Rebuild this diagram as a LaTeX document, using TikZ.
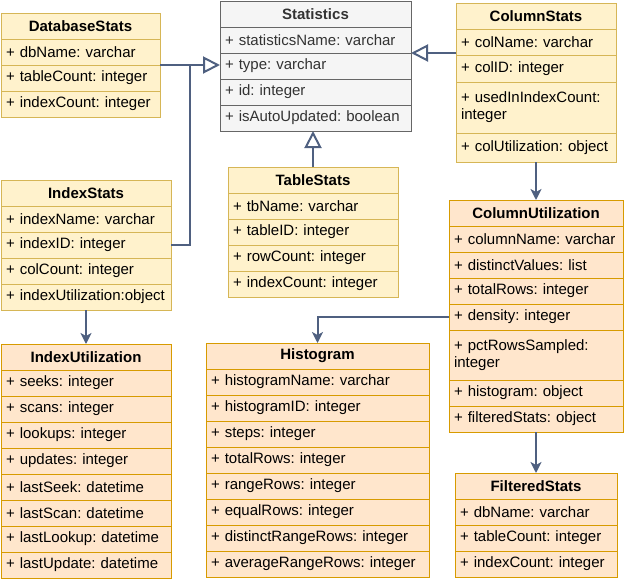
\documentclass[tikz,border=0pt]{standalone}
\usepackage{fontspec}
\setmainfont{Liberation Sans}
\usetikzlibrary{arrows.meta,calc}

\definecolor{giallo}{HTML}{FFF2CC}
\definecolor{giallobordo}{HTML}{D6B656}
\definecolor{arancio}{HTML}{FFE6CC}
\definecolor{aranciobordo}{HTML}{D79B00}
\definecolor{grigio}{HTML}{F5F5F5}
\definecolor{grigiobordo}{HTML}{666666}
\definecolor{blu}{RGB}{79,96,128}

\tikzset{
  cella/.style={draw, line width=1pt, inner xsep=5pt, inner ysep=0pt, outer sep=0pt,
    anchor=north west, font=\fontsize{15}{17}\selectfont\frenchspacing},
  titolo/.style={cella, align=center, minimum height=26, font=\fontsize{15}{17}\selectfont\bfseries},
  riga/.style={cella, align=left},
  chiaro/.style={fill=giallo, draw=giallobordo},
  scuro/.style={fill=arancio, draw=aranciobordo},
  base/.style={fill=grigio, draw=grigiobordo, text=black!80},
  eredita/.style={draw=blu, line width=2pt, -{Triangle[open, length=17pt, width=17pt]}},
  linea/.style={draw=blu, line width=2pt},
  freccia/.style={draw=blu, line width=2pt, -{Stealth[length=11pt, width=11pt, inset=3pt]}},
}

% #1 nome, #2 colore, #3 angolo, #4 larghezza, #5 titolo, #6 righe
\newcommand{\classe}[6]{%
  \pgfmathsetmacro{\tw}{#4-10}
  \node[titolo, #2, text width=\tw pt] (#1-h) at (#3) {#5};
  \foreach \hh/\tx [count=\i] in {#6} {
    \pgfmathtruncatemacro{\j}{\i-1}
    \ifnum\i=1 \def\sopra{#1-h}\else\def\sopra{#1-\j}\fi
    \node[riga, #2, text width=\tw pt, minimum height=\hh] (#1-\i) at (\sopra.south west) {\tx};
  }
}

\begin{document}
\begin{tikzpicture}[x=1pt, y=-1pt]
    \useasboundingbox (0,0) rectangle (625,582);
    \classe{stat}{base}{220,1}{191}{Statistics}{26/{+ statisticsName: varchar}, 26/{+ type: varchar}, 26/{+ id: integer}, 26/{+ isAutoUpdated: boolean}}
    \classe{dbs}{chiaro}{1,13}{159}{DatabaseStats}{26/{+ dbName: varchar}, 26/{+ tableCount: integer}, 26/{+ indexCount: integer}}
    \classe{cols}{chiaro}{456,3}{160}{ColumnStats}{26/{+ colName: varchar}, 27/{+ colID: integer}, 51/{+ usedInIndexCount:\\integer}, 29/{+ colUtilization: object}}
    \classe{ixs}{chiaro}{1,180}{170}{IndexStats}{26/{+ indexName: varchar}, 26/{+ indexID: integer}, 26/{+ colCount: integer}, 26/{+ indexUtilization:object}}
    \classe{tbs}{chiaro}{228,167}{170}{TableStats}{26/{+ tbName: varchar}, 26/{+ tableID: integer}, 26/{+ rowCount: integer}, 26/{+ indexCount: integer}}
    \classe{colu}{scuro}{449,200}{174}{ColumnUtilization}{26/{+ columnName: varchar}, 26/{+ distinctValues: list}, 26/{+ totalRows: integer}, 26/{+ density: integer}, 50/{+ pctRowsSampled:\\integer}, 26/{+ histogram: object}, 26/{+ filteredStats: object}}
    \classe{ixu}{scuro}{1,344}{170}{IndexUtilization}{26/{+ seeks: integer}, 26/{+ scans: integer}, 26/{+ lookups: integer}, 26/{+ updates: integer}, 26/{+ lastSeek: datetime}, 26/{+ lastScan: datetime}, 26/{+ lastLookup: datetime}, 26/{+ lastUpdate: datetime}}
    \classe{hist}{scuro}{206,343}{223}{Histogram}{26/{+ histogramName: varchar}, 26/{+ histogramID: integer}, 26/{+ steps: integer}, 26/{+ totalRows: integer}, 26/{+ rangeRows: integer}, 26/{+ equalRows: integer}, 26/{+ distinctRangeRows: integer}, 26/{+ averageRangeRows: integer}}
    \classe{fs}{scuro}{455,473}{162}{FilteredStats}{26/{+ dbName: varchar}, 26/{+ tableCount: integer}, 26/{+ indexCount: integer}}
    % generalizzazioni verso Statistics
    \coordinate (giunto) at ($(dbs-1.south east)!.5!(dbs-1.south east -| stat-h.west)$);
    \draw[eredita] (dbs-1.south east) -- (dbs-1.south east -| stat-h.west);
    \draw[linea] (ixs-2.east) -| (giunto);
    \draw[eredita] (cols-1.west |- stat-1.south) -- (stat-1.south east);
    \draw[eredita] (tbs-h.north) -- (tbs-h.north |- stat-4.south);
    % associazioni
    \draw[freccia] (cols-4.south) -- (colu-h.north);
    \draw[freccia] (ixs-4.south) -- (ixu-h.north);
    \draw[freccia] (colu-4.west) -| (hist-h.north);
    \draw[freccia] (colu-7.south) -- (fs-h.north);
\end{tikzpicture}
\end{document}
